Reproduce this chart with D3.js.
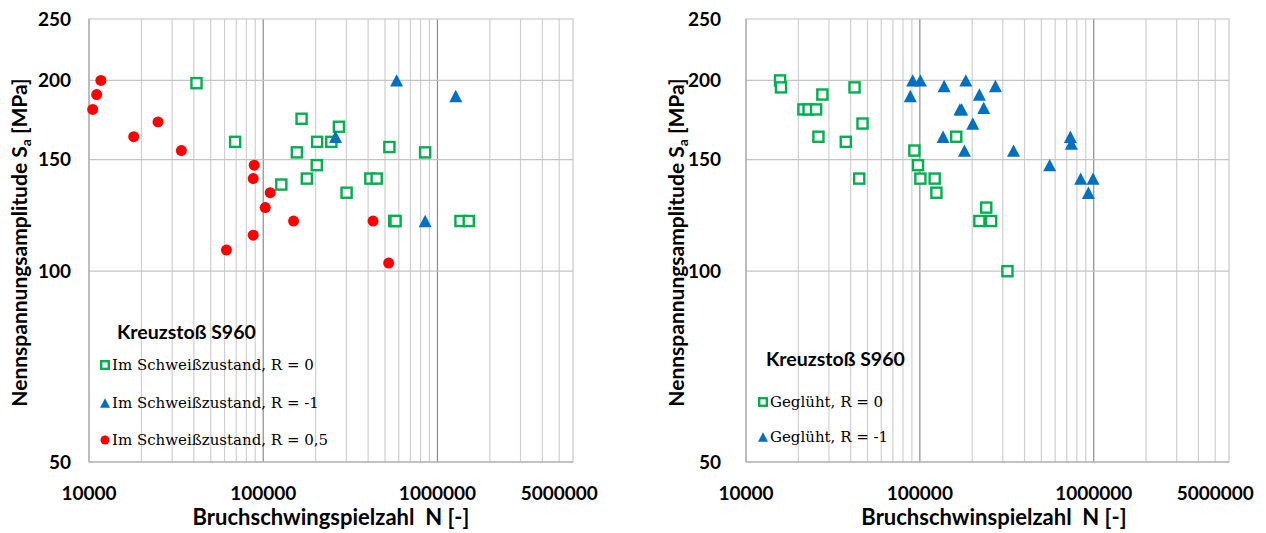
<!DOCTYPE html>
<html>
<head>
<meta charset="utf-8">
<script src="https://cdn.jsdelivr.net/npm/d3@7"></script>
<style>
  body { margin: 0; background: #fff; }
  svg { display: block; }
  .tick-label { font-family: Lato, sans-serif; font-weight: bold; font-size: 19px; fill: #000; }
  .axis-title { font-family: Lato, sans-serif; font-weight: bold; font-size: 21px; fill: #000; }
  .legend-title { font-family: Lato, sans-serif; font-weight: bold; font-size: 19.5px; fill: #000; }
  .legend-text { font-family: "DejaVu Serif", serif; font-size: 15px; fill: #000; }
</style>
</head>
<body>
<svg id="chart" width="1266" height="533"></svg>
<script>
// axis ticks
var yTicks = [50, 100, 150, 200, 250];
var xTickLabels = [10000, 100000, 1000000, 5000000];

// left chart: as-welded (Im Schweißzustand), [N, Sa]
var weldR0 = [
  [41400, 198], [69000, 160], [166000, 174], [156000, 154], [204000, 160],
  [203000, 147], [178000, 140], [127000, 137], [272000, 169], [246000, 160],
  [530000, 157], [850000, 154], [301000, 133], [412000, 140], [448000, 140],
  [565000, 120], [575000, 120], [1356000, 120], [1513000, 120]
];
var weldRm1 = [
  [583000, 200], [1274000, 189], [260000, 163], [850000, 120]
];
var weldR05 = [
  [10500, 180], [11070, 190], [11700, 200], [18060, 163], [24900, 172],
  [33900, 155], [88800, 147], [87600, 140], [109700, 133], [102700, 126],
  [87600, 114], [61500, 108], [149300, 120], [427000, 120], [525000, 103]
];

// right chart: annealed (Geglüht), [N, Sa]
var annealR0 = [
  [15700, 200], [15900, 195], [21400, 180], [22900, 180], [25300, 180],
  [27500, 190], [26100, 163], [37500, 160], [42100, 195], [46800, 171],
  [44800, 140], [93000, 155], [97600, 147], [100700, 140], [121700, 140],
  [124500, 133], [161900, 163], [240800, 126], [220000, 120], [257000, 120],
  [319000, 100]
];
var annealRm1 = [
  [90900, 200], [100700, 200], [88100, 189], [137900, 196], [183700, 200],
  [272000, 196], [220000, 190], [170000, 180], [174000, 180], [233000, 181],
  [201500, 171], [136000, 163], [180500, 155], [345800, 155], [734000, 163],
  [744000, 159], [558000, 147], [841000, 140], [991000, 140], [932000, 133]
];

var svg = d3.select('#chart');
var green = '#00b050', blue = '#0070c0', red = '#ff0000';
var plotTop = 19, plotBottom = 462;

var panels = [
  {
    x0: 89, x1: 573, yLabelX: 71, yTitleX: 20,
    xTitle: 'Bruchschwingspielzahl\u00a0 N [-]', xTitleX: 331,
    legend: { x: 105, titleX: 117, titleY: 332, rowY: [365, 403, 440] },
    series: [
      { name: 'Im Schweißzustand, R = 0', data: weldR0, shape: 'square', color: green },
      { name: 'Im Schweißzustand, R = -1', data: weldRm1, shape: 'triangle', color: blue },
      { name: 'Im Schweißzustand, R = 0,5', data: weldR05, shape: 'circle', color: red }
    ]
  },
  {
    x0: 746, x1: 1229, yLabelX: 721, yTitleX: 677,
    xTitle: 'Bruchschwinspielzahl\u00a0 N [-]', xTitleX: 994,
    legend: { x: 763, titleX: 766, titleY: 359, rowY: [402, 437] },
    series: [
      { name: 'Geglüht, R = 0', data: annealR0, shape: 'square', color: green },
      { name: 'Geglüht, R = -1', data: annealRm1, shape: 'triangle', color: blue }
    ]
  }
];

panels.forEach(drawPanel);

function drawMarker(g, shape, color, x, y, s) {
  if (shape === 'square') {
    g.append('rect')
      .attr('x', x - s / 2 + 1.2).attr('y', y - s / 2 + 1.2)
      .attr('width', s - 2.4).attr('height', s - 2.4)
      .attr('fill', '#fff').attr('stroke', color).attr('stroke-width', 2.4);
  } else if (shape === 'triangle') {
    var h = s * 0.95;
    g.append('path')
      .attr('d', `M${x},${y - h / 2}L${x + s / 2},${y + h / 2}L${x - s / 2},${y + h / 2}Z`)
      .attr('fill', color);
  } else {
    g.append('circle')
      .attr('cx', x).attr('cy', y).attr('r', s / 2)
      .attr('fill', color);
  }
}

function drawPanel(p) {
  var x = d3.scaleLog().domain([1e4, 6e6]).range([p.x0, p.x1]);
  var y = d3.scaleLog().domain([50, 250]).range([plotBottom, plotTop]);
  var g = svg.append('g');

  // vertical grid (1..9 per decade)
  var vgrid = [];
  for (var k = 4; k <= 6; k++) {
    for (var m = 1; m <= 9; m++) {
      var v = m * Math.pow(10, k);
      if (v > 1e4 && v < 6e6) vgrid.push(v);
    }
  }
  g.selectAll('.vgrid').data(vgrid).enter().append('line')
    .attr('x1', d => x(d)).attr('x2', d => x(d))
    .attr('y1', plotTop).attr('y2', plotBottom)
    .attr('stroke', d => (d === 1e5 || d === 1e6) ? '#8c8c8c' : '#cfcfcf')
    .attr('stroke-width', 1.2);

  g.selectAll('.hgrid').data(yTicks.slice(1, -1)).enter().append('line')
    .attr('x1', p.x0).attr('x2', p.x1)
    .attr('y1', d => y(d)).attr('y2', d => y(d))
    .attr('stroke', '#c4c4c4').attr('stroke-width', 1.2);

  g.append('rect')
    .attr('x', p.x0).attr('y', plotTop)
    .attr('width', p.x1 - p.x0).attr('height', plotBottom - plotTop)
    .attr('fill', 'none').attr('stroke', '#c8c8c8').attr('stroke-width', 1.2);
  g.append('line')
    .attr('x1', p.x0).attr('x2', p.x1).attr('y1', plotBottom).attr('y2', plotBottom)
    .attr('stroke', '#a6a6a6').attr('stroke-width', 1.2);
  g.append('line')
    .attr('x1', p.x0).attr('x2', p.x0).attr('y1', plotTop).attr('y2', plotBottom)
    .attr('stroke', '#a6a6a6').attr('stroke-width', 1.2);

  // tick labels
  g.selectAll('.ylab').data(yTicks).enter().append('text')
    .attr('class', 'tick-label')
    .attr('x', p.yLabelX).attr('y', d => y(d))
    .attr('dy', '0.35em').attr('text-anchor', 'end')
    .text(d => d);
  g.selectAll('.xlab').data(xTickLabels).enter().append('text')
    .attr('class', 'tick-label')
    .attr('x', d => x(d)).attr('y', 493)
    .attr('dy', '0.35em').attr('text-anchor', 'middle')
    .text(d => d);

  // axis titles
  g.append('text').attr('class', 'axis-title')
    .attr('x', p.xTitleX).attr('y', 517).attr('dy', '0.35em')
    .attr('text-anchor', 'middle').style('font-size', '22px').text(p.xTitle);
  var yt = g.append('text').attr('class', 'axis-title')
    .attr('transform', `translate(${p.yTitleX},${(plotTop + plotBottom) / 2 + 2}) rotate(-90)`)
    .attr('dy', '0.35em').attr('text-anchor', 'middle');
  yt.append('tspan').text('Nennspannungsamplitude S');
  yt.append('tspan').attr('font-size', '14px').attr('dy', '4').text('a');
  yt.append('tspan').attr('dy', '-4').text(' [MPa]');

  // data markers
  p.series.forEach(function (s) {
    var sg = g.append('g');
    var size = s.shape === 'circle' ? 11 : (s.shape === 'square' ? 12.5 : 13);
    s.data.forEach(function (d) {
      drawMarker(sg, s.shape, s.color, x(d[0]), y(d[1]), size);
    });
  });

  // legend
  var lg = g.append('g');
  lg.append('text').attr('class', 'legend-title')
    .attr('x', p.legend.titleX).attr('y', p.legend.titleY).attr('dy', '0.35em')
    .text('Kreuzstoß S960');
  p.series.forEach(function (s, i) {
    var ry = p.legend.rowY[i];
    drawMarker(lg, s.shape, s.color, p.legend.x, ry, s.shape === 'circle' ? 9 : 10);
    lg.append('text').attr('class', 'legend-text')
      .attr('x', p.legend.x + 7).attr('y', ry).attr('dy', '0.35em')
      .text(s.name);
  });
}
</script>
</body>
</html>
